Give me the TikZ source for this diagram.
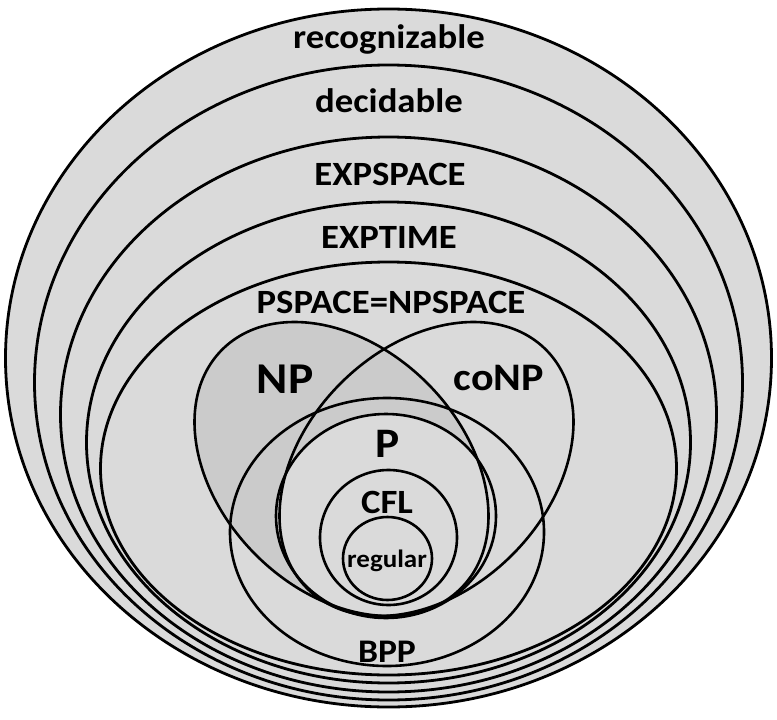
\documentclass[tikz,border=0pt]{standalone}
\usepackage{fontspec}
\setmainfont{Carlito}[FakeStretch=1.08]
\definecolor{bgray}{HTML}{DADADA}
\definecolor{npgray}{HTML}{CBCBCB}
\tikzset{
  ring/.style={draw=black, line width=2.8pt, fill=bgray},
  inner/.style={draw=black, line width=2.6pt},
  lab/.style={anchor=base, inner sep=0pt, font=\bfseries\fontsize{#1}{#1}\selectfont},
}
\begin{document}
\begin{tikzpicture}[x=1pt, y=-1pt]
\useasboundingbox (0,0) rectangle (777,720);
% outer nested classes
\draw[ring] (388.5,358) ellipse [x radius=383, y radius=349];
\draw[ring] (388.5,382.5) ellipse [x radius=354, y radius=317.5];
\draw[ring] (388.5,414.5) ellipse [x radius=328, y radius=277.5];
\draw[ring] (388.5,442.5) ellipse [x radius=302, y radius=240.5];
\draw[ring] (388.5,468.5) ellipse [x radius=288, y radius=206.5];
% NP fill
\begin{scope}[shift={(341.5,469)}, rotate=-45]
  \fill[npgray] (0,0) ellipse [x radius=168.8, y radius=121.3];
\end{scope}
% P fill
\fill[bgray] (386,516) ellipse [x radius=110, y radius=102];
% outlines
\begin{scope}[shift={(341.5,469)}, rotate=-45]
  \draw[inner] (0,0) ellipse [x radius=168.8, y radius=121.3];
\end{scope}
\begin{scope}[shift={(426.5,469)}, rotate=45]
  \draw[inner] (0,0) ellipse [x radius=168.8, y radius=121.3];
\end{scope}
\draw[inner] (387,532) ellipse [x radius=157, y radius=134];
\draw[inner] (386,516) ellipse [x radius=110, y radius=102];
\draw[inner] (388.5,537.5) ellipse [x radius=68.5, y radius=67.5];
\draw[inner] (387.5,558.5) ellipse [x radius=44.5, y radius=41.5];
% labels
\node[lab=34] (rec) at (389,48) {recognizable};
\node[lab=34] (dec) at (389,112) {decidable};
\node[lab=34] (exps) at (390,185) {EXPSPACE};
\node[lab=34] (expt) at (389,248) {EXPTIME};
\node[lab=34] (psp) at (391,313) {PSPACE=NPSPACE};
\node[lab=44] (np) at (285,393) {NP};
\node[lab=39] (conp) at (499,390) {coNP};
\node[lab=42] (p) at (388,457) {P};
\node[lab=34] (cfl) at (387,513) {CFL};
\node[lab=25] (reg) at (387,567) {regular};
\node[lab=33] (bpp) at (387,662) {BPP};
\end{tikzpicture}
\end{document}
